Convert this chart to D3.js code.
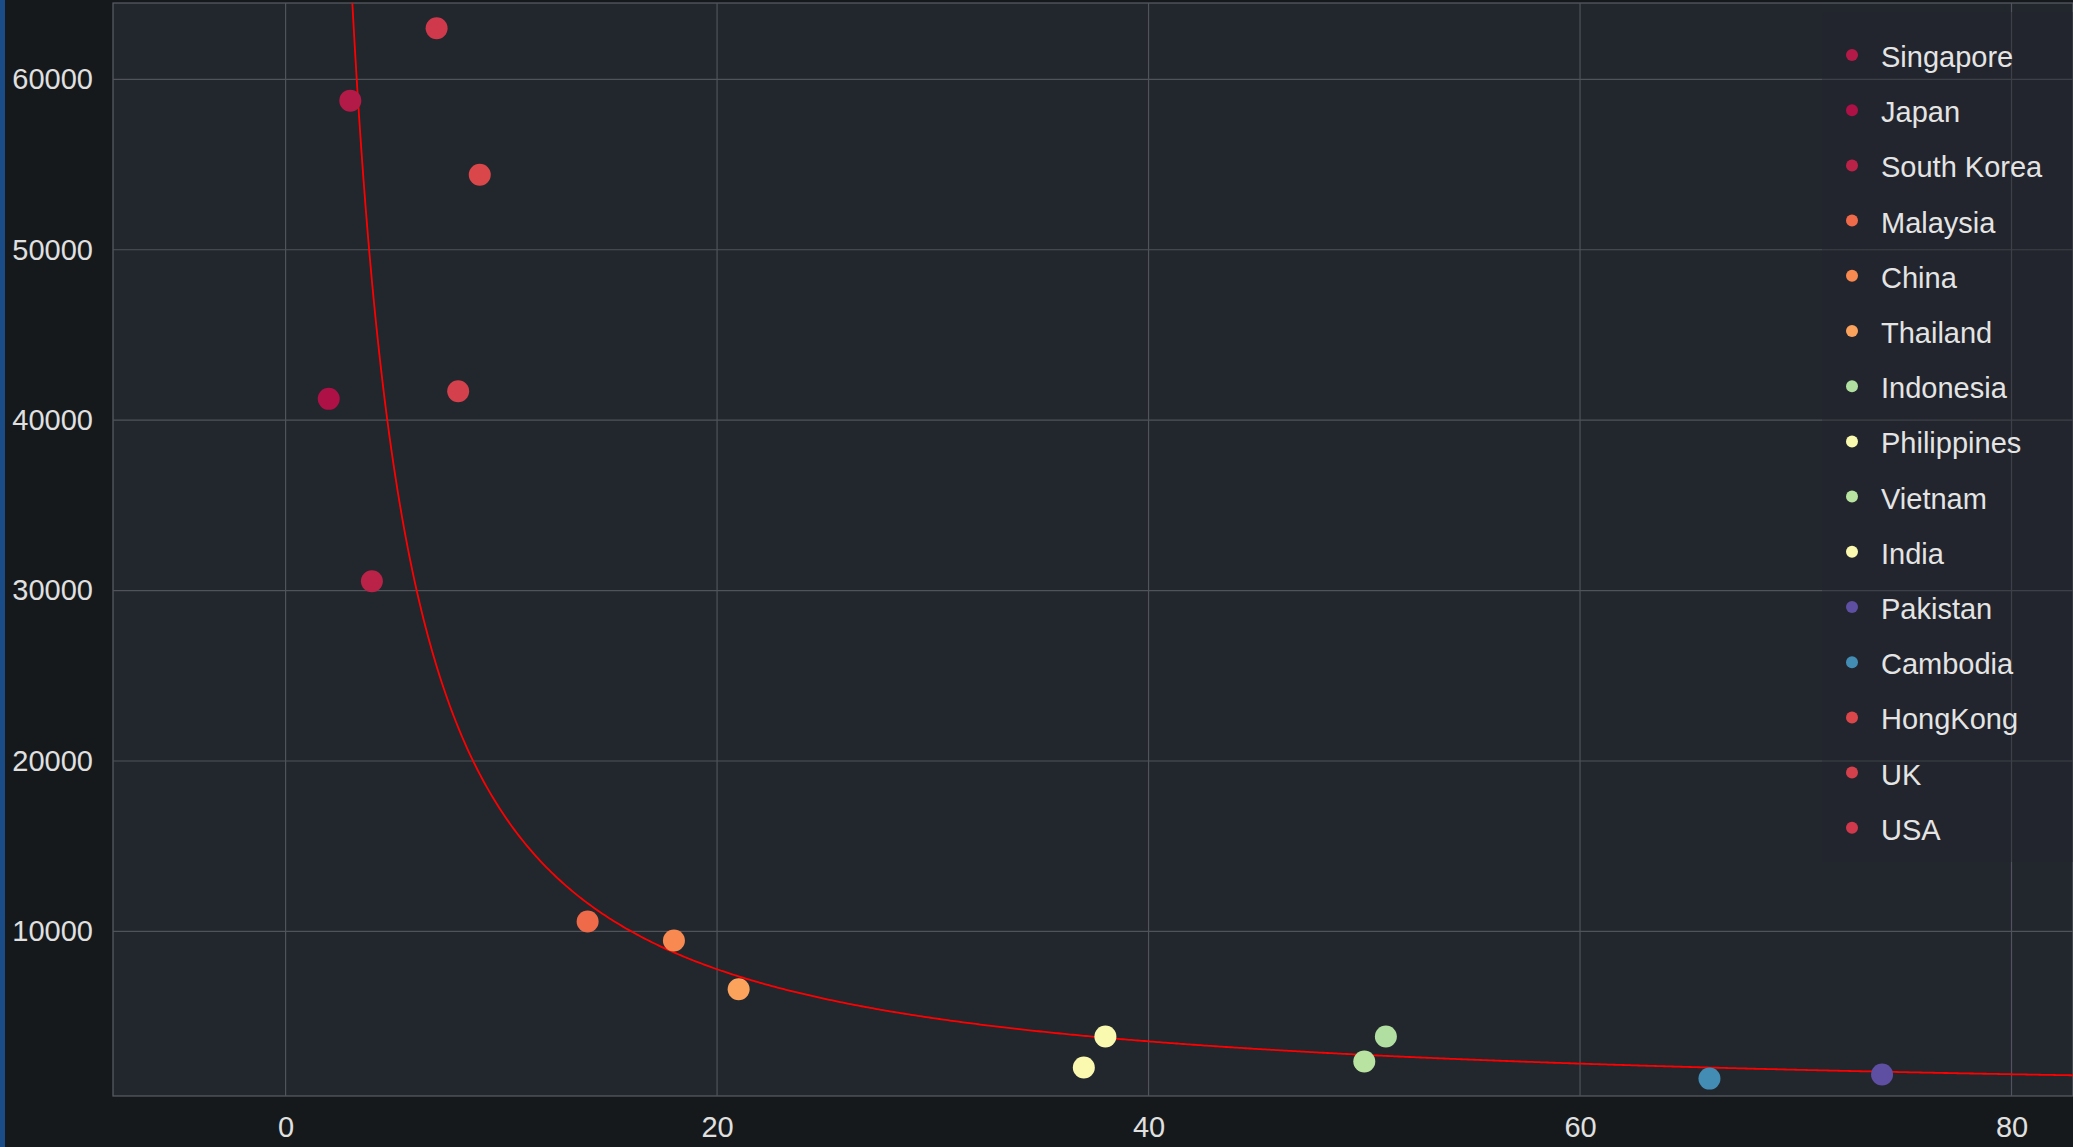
<!DOCTYPE html>
<html>
<head>
<meta charset="utf-8">
<style>
body { margin: 0; background: #16191c; overflow: hidden; }
text { font-family: "Liberation Sans", Arial, Helvetica, sans-serif; }
</style>
</head>
<body>
<svg width="2073" height="1147"></svg>
<script src="https://cdn.jsdelivr.net/npm/d3@7/dist/d3.min.js"></script>
<script>
var countries = ["USA", "Singapore", "HongKong", "Japan", "UK", "South Korea", "Malaysia", "China", "Thailand",
                 "Philippines", "India", "Indonesia", "Vietnam", "Cambodia", "Pakistan"];
var xValues = [7, 3, 9, 2, 8, 4, 14, 18, 21, 38, 37, 51, 50, 66, 74];
var yValues = [63000, 58750, 54400, 41250, 41700, 30550, 10580, 9460, 6600, 3830, 2010, 3830, 2360, 1360, 1600];
var legendOrder = ["Singapore", "Japan", "South Korea", "Malaysia", "China", "Thailand", "Indonesia", "Philippines",
                   "Vietnam", "India", "Pakistan", "Cambodia", "HongKong", "UK", "USA"];
var xTicks = [0, 20, 40, 60, 80];
var yTicks = [10000, 20000, 30000, 40000, 50000, 60000];

var svg = d3.select("svg");
// plot box (window.top is read-only, so no "top" here)
var pLeft = 113, pTop = 3, pRight = 2073, pBottom = 1096;

var x = d3.scaleLinear().domain([-8, 82.85]).range([pLeft, pRight]);
var y = d3.scaleLinear().domain([340, 64480]).range([pBottom, pTop]);
var color = d3.scaleSequential(d3.interpolateSpectral).domain([0, d3.max(xValues)]);

var data = countries.map(function(c, i) {
	return {name: c, x: xValues[i], y: yValues[i]};
});

// blue stripe on the left edge
svg.append("rect").attr("x", 0).attr("y", 0).attr("width", 5).attr("height", 1147).attr("fill", "#1a4c88");

// plot background
svg.append("rect")
  .attr("x", pLeft).attr("y", pTop)
  .attr("width", pRight - pLeft).attr("height", pBottom - pTop)
  .attr("fill", "#22262d")
  .attr("stroke", "#5a5e64")
  .attr("stroke-width", 1.2);

svg.append("clipPath").attr("id", "plot")
  .append("rect")
  .attr("x", pLeft).attr("y", pTop)
  .attr("width", pRight - pLeft).attr("height", pBottom - pTop);

// grid
svg.selectAll("line.gx")
  .data(xTicks)
  .enter()
  .append("line")
  .attr("class", "gx")
  .attr("x1", function(d) { return x(d); })
  .attr("x2", function(d) { return x(d); })
  .attr("y1", pTop).attr("y2", pBottom)
  .attr("stroke", "#4f535a").attr("stroke-width", 1.2);

svg.selectAll("line.gy")
  .data(yTicks)
  .enter()
  .append("line")
  .attr("class", "gy")
  .attr("y1", function(d) { return y(d); })
  .attr("y2", function(d) { return y(d); })
  .attr("x1", pLeft).attr("x2", pRight)
  .attr("stroke", "#4f535a").attr("stroke-width", 1.2);

// axes, labels only
var yAxis = svg.append("g")
  .attr("transform", "translate(" + pLeft + ",0)")
  .call(d3.axisLeft(y).tickValues(yTicks).tickSize(0).tickPadding(20).tickFormat(d3.format("d")));
var xAxis = svg.append("g")
  .attr("transform", "translate(0," + pBottom + ")")
  .call(d3.axisBottom(x).tickValues(xTicks).tickSize(0).tickPadding(20));
[yAxis, xAxis].forEach(function(a) {
	a.select(".domain").remove();
	a.selectAll("text").attr("fill", "#e0e0e0").style("font-size", "29px");
});

// power regression y = a * x^b, fitted in log space
var lx = xValues.map(Math.log), ly = yValues.map(Math.log);
var mx = d3.mean(lx), my = d3.mean(ly);
var sxy = d3.sum(lx, function(v, i) { return (v - mx) * (ly[i] - my); });
var sxx = d3.sum(lx, function(v) { return (v - mx) * (v - mx); });
var b = sxy / sxx;
var a = Math.exp(my - b * mx);

var fitX = d3.range(2.5, 83.5, 0.1);
var line = d3.line()
  .x(function(d) { return x(d); })
  .y(function(d) { return y(a * Math.pow(d, b)); });

svg.append("path")
  .datum(fitX)
  .attr("clip-path", "url(#plot)")
  .attr("d", line)
  .attr("fill", "none")
  .attr("stroke", "#ff0000")
  .attr("stroke-width", 1.8);

// points
svg.append("g").attr("clip-path", "url(#plot)")
  .selectAll("circle")
  .data(data)
  .enter()
  .append("circle")
  .attr("cx", function(d) { return x(d.x); })
  .attr("cy", function(d) { return y(d.y); })
  .attr("r", 11)
  .attr("fill", function(d) { return color(d.x); });

// legend
svg.append("rect")
  .attr("x", 1822).attr("y", 12)
  .attr("width", 260).attr("height", 850)
  .attr("fill", "#22262d").attr("opacity", 0.4);

var legend = svg.selectAll("g.legend")
  .data(legendOrder)
  .enter()
  .append("g")
  .attr("class", "legend")
  .attr("transform", function(d, i) { return "translate(1852," + (55 + i * 55.2) + ")"; });

legend.append("circle")
  .attr("r", 6)
  .attr("fill", function(d) { return color(xValues[countries.indexOf(d)]); });

legend.append("text")
  .attr("x", 29)
  .attr("y", 12)
  .attr("fill", "#e4e4e4")
  .style("font-size", "29px")
  .text(function(d) { return d; });
</script>
</body>
</html>
